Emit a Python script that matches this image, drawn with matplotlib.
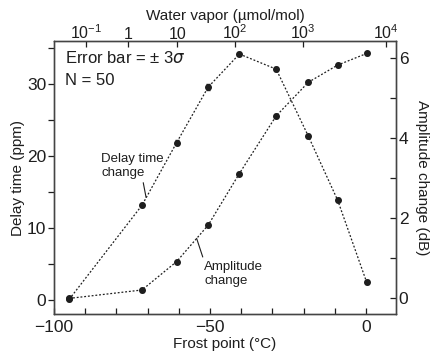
import numpy as np
import matplotlib
matplotlib.use("Agg")
import matplotlib.pyplot as plt
from matplotlib.ticker import MultipleLocator

plt.rcParams['font.family'] = ['Liberation Sans', 'DejaVu Sans']
plt.rcParams['axes.unicode_minus'] = True

# data
frost = [-95.1, -71.8, -60.7, -50.6, -40.6, -28.8, -18.5, -9.1, 0.2]
delay = [0.05, 13.1, 21.8, 29.5, 34.1, 32.0, 22.7, 13.8, 2.4]
delay_err = [0.3, 0.3, 0.3, 0.4, 0.3, 0.3, 0.3, 0.3, 0.3]
amplitude = [0.0, 0.21, 0.92, 1.83, 3.12, 4.56, 5.40, 5.83, 6.12]
amp_err = [0.04, 0.04, 0.04, 0.05, 0.04, 0.04, 0.04, 0.04, 0.04]

vapor_ticks = [0.1, 1, 10, 100, 1000, 10000]
vapor_labels = ['10$^{\\mathregular{-1}}$', '1', '10', '10$^{\\mathregular{2}}$',
                '10$^{\\mathregular{3}}$', '10$^{\\mathregular{4}}$']


def frost_point(ppm):
    # Magnus formula over ice, 1 atm
    e = np.asarray(ppm) * 1e-6 * 101325.0
    a = np.log(e / 611.15)
    return 272.55 * a / (22.452 - a)


ink = '#1e1e1e'
fig = plt.figure(figsize=(4.32, 3.54), dpi=100)
ax = fig.add_axes([0.125, 0.113, 0.7917, 0.771])

ax.plot(frost, delay, linestyle=(0, (1.5, 1.5)), color=ink, lw=0.9)
ax.errorbar(frost, delay, yerr=delay_err, fmt='o', color=ink, ms=4,
            capsize=1.5, elinewidth=0.8)
ax.set_xlim(-100, 9.6)
ax.set_ylim(-2.0, 35.9)
ax.xaxis.set_major_locator(MultipleLocator(50))
ax.xaxis.set_minor_locator(MultipleLocator(10))
ax.yaxis.set_major_locator(MultipleLocator(10))
ax.yaxis.set_minor_locator(MultipleLocator(5))
ax.tick_params(axis='x', which='both', direction='in', length=4, width=0.9,
               labelsize=12.5, colors=ink, pad=4)
ax.tick_params(axis='y', which='both', direction='out', length=4, width=0.9,
               labelsize=12.5, colors=ink, pad=1.5)
ax.set_xlabel('Frost point (°C)', fontsize=11, color=ink, labelpad=2)
ax.set_ylabel('Delay time (ppm)', fontsize=11, color=ink, labelpad=1.5)

ax2 = ax.twinx()
ax2.plot(frost, amplitude, linestyle=(0, (1.5, 1.5)), color=ink, lw=0.9)
ax2.errorbar(frost, amplitude, yerr=amp_err, fmt='o', color=ink, ms=4,
             capsize=1.5, elinewidth=0.8)
ax2.set_ylim(-0.39, 6.43)
ax2.yaxis.set_major_locator(MultipleLocator(2))
ax2.yaxis.set_minor_locator(MultipleLocator(1))
ax2.tick_params(axis='y', which='both', direction='in', length=4, width=0.9,
                labelsize=12.5, colors=ink, pad=2)
ax2.set_ylabel('Amplitude change (dB)', fontsize=11, color=ink,
               rotation=270, labelpad=15)

ax3 = ax.twiny()
ax3.set_xlim(ax.get_xlim())
ax3.set_xticks(frost_point(vapor_ticks))
ax3.set_xticklabels(vapor_labels)
ax3.tick_params(axis='x', direction='in', length=4, width=0.9,
                labelsize=11.5, colors=ink, pad=-1)
ax3.set_xlabel('Water vapor (µmol/mol)', fontsize=11, color=ink, labelpad=3)

for a in (ax, ax2, ax3):
    for s in a.spines.values():
        s.set_color('#444444')
        s.set_linewidth(0.9)

ax.text(0.032, 0.937, 'Error bar = ± 3$\\sigma$', transform=ax.transAxes,
        fontsize=12, color=ink, va='center', ha='left')
ax.text(0.032, 0.856, 'N = 50', transform=ax.transAxes,
        fontsize=12, color=ink, va='center', ha='left')

ax.annotate('Delay time\nchange', xy=(-70.5, 14.2), xytext=(-84.9, 18.6),
            fontsize=9.5, color=ink, ha='left', va='center',
            arrowprops=dict(arrowstyle='-', color=ink, lw=0.8,
                            relpos=(0.66, 0.0), shrinkA=1, shrinkB=0))
ax2.annotate('Amplitude\nchange', xy=(-54.3, 1.5), xytext=(-51.9, 0.61),
             fontsize=9.5, color=ink, ha='left', va='center',
             arrowprops=dict(arrowstyle='-', color=ink, lw=0.8,
                             relpos=(0.0, 1.0), shrinkA=1, shrinkB=0))

fig.savefig('out.png', dpi=100)
